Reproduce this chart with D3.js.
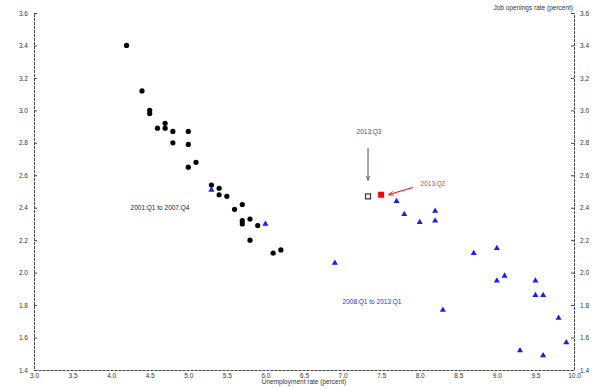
<!DOCTYPE html>
<html>
<head>
<meta charset="utf-8">
<script src="https://cdn.jsdelivr.net/npm/d3@7"></script>
<style>
    body { margin: 0; background: #fff; }
    .tick-label { font-family: 'Liberation Sans', Arial, sans-serif; font-size: 6.5px; fill: #333; }
    .note { font-family: 'Liberation Sans', Arial, sans-serif; font-size: 6.5px; }
</style>
</head>
<body>
<script>
// 2001:Q1 to 2007:Q4 (unemployment, job openings)
var preUnemp = [4.2, 4.4, 4.5, 4.5, 4.6, 4.7, 4.7, 4.8, 4.8, 5.0, 5.0, 5.0, 5.1,
                5.3, 5.4, 5.4, 5.5, 5.6, 5.7, 5.7, 5.7, 5.8, 5.9, 5.8, 6.1, 6.2];
var preOpen  = [3.40, 3.12, 3.00, 2.98, 2.89, 2.92, 2.89, 2.87, 2.80, 2.87, 2.79, 2.65, 2.68,
                2.54, 2.52, 2.48, 2.47, 2.39, 2.42, 2.32, 2.30, 2.33, 2.29, 2.20, 2.12, 2.14];
// 2008:Q1 to 2013:Q1
var postUnemp = [5.3, 6.0, 6.9, 7.7, 7.8, 8.0, 8.2, 8.2, 8.3, 8.7, 9.0, 9.0, 9.1,
                 9.3, 9.5, 9.5, 9.6, 9.6, 9.8, 9.9];
var postOpen  = [2.51, 2.30, 2.06, 2.44, 2.36, 2.31, 2.38, 2.32, 1.77, 2.12, 2.15, 1.95, 1.98,
                 1.52, 1.95, 1.86, 1.86, 1.49, 1.72, 1.57];
var q2Point = [7.5, 2.48];
var q3Point = [7.33, 2.47];

var xTicks = [3.0, 3.5, 4.0, 4.5, 5.0, 5.5, 6.0, 6.5, 7.0, 7.5, 8.0, 8.5, 9.0, 9.5, 10.0];
var yTicks = [1.4, 1.6, 1.8, 2.0, 2.2, 2.4, 2.6, 2.8, 3.0, 3.2, 3.4, 3.6];

var width = 600, height = 388;
var svg = d3.select("body").append("svg")
    .attr("width", width)
    .attr("height", height);

var x = d3.scaleLinear().domain([3, 10]).range([34, 574]);
var y = d3.scaleLinear().domain([1.4, 3.6]).range([370, 13]);

// arrow markers
var defs = svg.append("defs");
function marker(id, color) {
    defs.append("marker")
        .attr("id", id)
        .attr("viewBox", "0 0 10 10")
        .attr("refX", 9).attr("refY", 5)
        .attr("markerWidth", 5).attr("markerHeight", 5)
        .attr("orient", "auto")
        .append("path")
        .attr("d", "M0,1 L10,5 L0,9")
        .attr("fill", "none")
        .attr("stroke", color)
        .attr("stroke-width", 1.5);
}
marker("arrGrey", "#5a4a5a");
marker("arrRed", "red");

// axes
var axisStyle = function(g) {
    g.select(".domain").attr("stroke", "#444").attr("stroke-dasharray", "3,1");
    g.selectAll(".tick line").attr("stroke", "#444");
    g.selectAll(".tick text").attr("class", "tick-label").attr("font-size", null).attr("font-family", null).attr("fill", null);
};

svg.append("g")
    .attr("transform", "translate(0," + y(1.4) + ")")
    .call(d3.axisBottom(x).tickValues(xTicks).tickFormat(d3.format(".1f")).tickSize(0).tickPadding(3))
    .call(axisStyle);

svg.append("g")
    .attr("transform", "translate(" + x(3) + ",0)")
    .call(d3.axisLeft(y).tickValues(yTicks).tickFormat(d3.format(".1f")).tickSize(-3).tickPadding(6))
    .call(axisStyle);

svg.append("g")
    .attr("transform", "translate(" + x(10) + ",0)")
    .call(d3.axisRight(y).tickValues(yTicks).tickFormat(d3.format(".1f")).tickSize(-3).tickPadding(6))
    .call(axisStyle);

svg.append("text")
    .attr("class", "note")
    .attr("x", 304)
    .attr("y", 384)
    .attr("text-anchor", "middle")
    .attr("fill", "#333")
    .text("Unemployment rate (percent)");

svg.append("text")
    .attr("class", "note")
    .attr("x", x(10) - 1)
    .attr("y", 10)
    .attr("text-anchor", "end")
    .attr("fill", "#333")
    .text("Job openings rate (percent)");

// 2001-2007 points
svg.append("g").selectAll("circle")
    .data(d3.zip(preUnemp, preOpen))
    .enter().append("circle")
    .attr("cx", function(d) { return x(d[0]); })
    .attr("cy", function(d) { return y(d[1]); })
    .attr("r", 2.6)
    .attr("fill", "#000");

// 2008-2013 points
svg.append("g").selectAll("path")
    .data(d3.zip(postUnemp, postOpen))
    .enter().append("path")
    .attr("transform", function(d) { return "translate(" + x(d[0]) + "," + y(d[1]) + ")"; })
    .attr("d", d3.symbol().type(d3.symbolTriangle).size(16))
    .attr("fill", "#1a1aff");

// 2013:Q2 and Q3
svg.append("rect")
    .attr("x", x(q2Point[0]) - 3).attr("y", y(q2Point[1]) - 3)
    .attr("width", 6).attr("height", 6)
    .attr("fill", "red");
svg.append("rect")
    .attr("x", x(q3Point[0]) - 2.5).attr("y", y(q3Point[1]) - 2.5)
    .attr("width", 5).attr("height", 5)
    .attr("fill", "#fff")
    .attr("stroke", "#3a303a")
    .attr("stroke-width", 1.2);

// annotations
svg.append("text")
    .attr("class", "note")
    .attr("x", 160).attr("y", 209.5)
    .attr("text-anchor", "middle")
    .attr("fill", "#222")
    .text("2001:Q1 to 2007:Q4");

svg.append("text")
    .attr("class", "note")
    .attr("x", 372).attr("y", 303.5)
    .attr("text-anchor", "middle")
    .attr("fill", "#2b2bff")
    .text("2008:Q1 to 2013:Q1");

svg.append("text")
    .attr("class", "note")
    .attr("x", 369).attr("y", 133.5)
    .attr("text-anchor", "middle")
    .attr("fill", "#5a4a5a")
    .text("2013:Q3");

svg.append("line")
    .attr("x1", x(q3Point[0])).attr("y1", 148)
    .attr("x2", x(q3Point[0])).attr("y2", 180)
    .attr("stroke", "#5a4a5a")
    .attr("stroke-width", 1)
    .attr("marker-end", "url(#arrGrey)");

svg.append("text")
    .attr("class", "note")
    .attr("x", 433).attr("y", 185.5)
    .attr("text-anchor", "middle")
    .attr("fill", "#ff3333")
    .text("2013:Q2");

svg.append("line")
    .attr("x1", 413).attr("y1", 187.5)
    .attr("x2", 389).attr("y2", 194.5)
    .attr("stroke", "red")
    .attr("stroke-width", 1)
    .attr("marker-end", "url(#arrRed)");
</script>
</body>
</html>
